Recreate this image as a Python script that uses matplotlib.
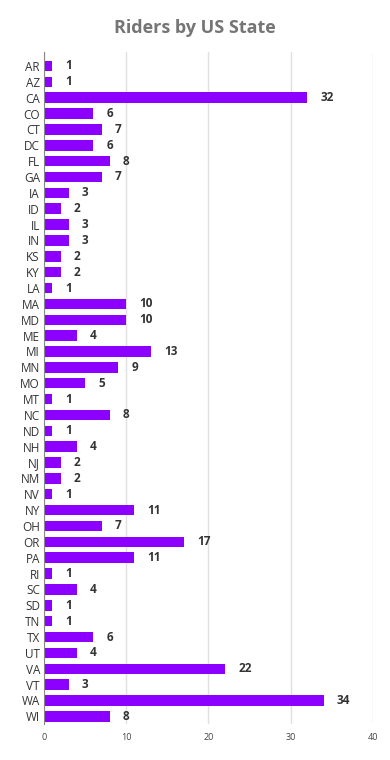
import matplotlib
matplotlib.use("Agg")
import matplotlib.pyplot as plt

states = ["AR", "AZ", "CA", "CO", "CT", "DC", "FL", "GA", "IA", "ID", "IL", "IN",
          "KS", "KY", "LA", "MA", "MD", "ME", "MI", "MN", "MO", "MT", "NC", "ND",
          "NH", "NJ", "NM", "NV", "NY", "OH", "OR", "PA", "RI", "SC", "SD", "TN",
          "TX", "UT", "VA", "VT", "WA", "WI"]
riders = [1, 1, 32, 6, 7, 6, 8, 7, 3, 2, 3, 3,
          2, 2, 1, 10, 10, 4, 13, 9, 5, 1, 8, 1,
          4, 2, 2, 1, 11, 7, 17, 11, 1, 4, 1, 1,
          6, 4, 22, 3, 34, 8]
xticks = [0, 10, 20, 30, 40]

plt.rcParams['font.family'] = ['Open Sans', 'DejaVu Sans']

fig = plt.figure(figsize=(3.9, 7.6), dpi=100)
ax = fig.add_axes([0.113, 0.047, 0.843, 0.885])

ypos = list(range(len(states)))
ax.barh(ypos, riders, height=0.66, color="#8C00FF", zorder=3)
for y, v in zip(ypos, riders):
    ax.text(v + 1.6, y, str(v), va="center", ha="left", fontsize=8.5,
            fontweight="bold", color="#333333")

ax.set_yticks(ypos)
ax.set_yticklabels(states, fontsize=8.5, color="#333333")
ax.set_ylim(len(states) - 0.5, -0.9)
ax.set_xlim(0, 40)
ax.set_xticks(xticks)
ax.set_xticklabels([str(t) for t in xticks], fontsize=6.5, color="#444444")
ax.tick_params(axis="y", length=0, pad=3)
ax.tick_params(axis="x", length=0, pad=6)
ax.grid(axis="x", color="#e0e0e0", linewidth=1, zorder=0)
for s in ["top", "right", "bottom"]:
    ax.spines[s].set_visible(False)
ax.spines["left"].set_color("#888888")
ax.spines["left"].set_zorder(4)

fig.text(0.5, 0.963, "Riders by US State", ha="center", va="center",
         fontsize=13, fontweight="bold", color="#757575")

fig.savefig("out.png", dpi=100)
